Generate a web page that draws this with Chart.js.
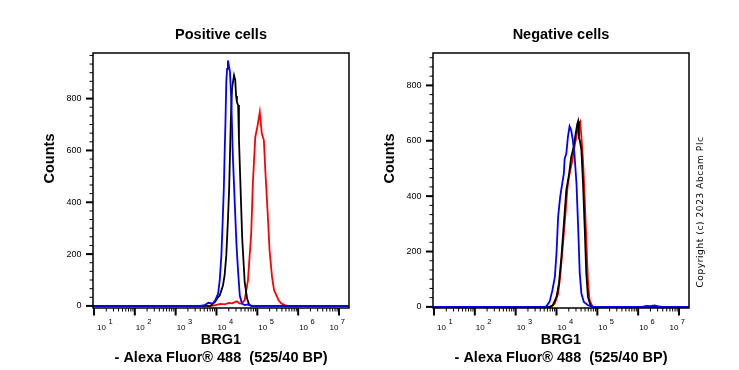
<!DOCTYPE html>
<html>
<head>
<meta charset="utf-8">
<script src="https://cdn.jsdelivr.net/npm/chart.js@4.4.1/dist/chart.umd.min.js"></script>
<style>
  body { margin: 0; background: #fff; width: 739px; height: 370px; position: relative; overflow: hidden; }
  canvas { position: absolute; top: 0; }
  #c1 { left: 0; }
  #c2 { left: 340px; }
</style>
</head>
<body>
<canvas id="c1" width="370" height="370"></canvas>
<canvas id="c2" width="399" height="370"></canvas>
<script>
// axis ranges (log10 of intensity for x)
var xMinLog = 0.976, xMaxLog = 7.245;
var decades = [1, 2, 3, 4, 5, 6, 7];
var yLabels = [0, 200, 400, 600, 800];

// Positive cells (x = log10 intensity, y = counts)
var posBlueLog   = [0.98, 3.60, 3.71, 3.80, 3.91, 3.97, 4.04, 4.08, 4.12, 4.15, 4.18, 4.20, 4.22, 4.24, 4.26, 4.28, 4.30, 4.33, 4.36, 4.40, 4.45, 4.49, 4.53, 4.57, 4.62, 4.69, 4.76, 4.85, 7.24];
var posBlueCount = [0, 0, 3, 12, 9, 22, 48, 100, 195, 320, 454, 590, 710, 864, 915, 947, 930, 902, 805, 581, 388, 234, 131, 41, 10, 3, 6, 0, 0];
var posBlackLog   = [0.98, 3.85, 3.92, 3.96, 4.02, 4.08, 4.12, 4.16, 4.20, 4.24, 4.28, 4.31, 4.35, 4.38, 4.41, 4.43, 4.46, 4.48, 4.50, 4.53, 4.55, 4.59, 4.63, 4.69, 4.75, 4.80, 4.86, 7.24];
var posBlackCount = [0, 0, 10, 15, 30, 41, 60, 80, 120, 195, 330, 452, 710, 838, 870, 890, 870, 810, 787, 775, 645, 452, 260, 93, 28, 5, 0, 0];
var posRedLog   = [0.98, 3.90, 4.00, 4.10, 4.20, 4.30, 4.38, 4.45, 4.50, 4.56, 4.61, 4.69, 4.77, 4.85, 4.89, 4.95, 5.00, 5.06, 5.11, 5.16, 5.20, 5.25, 5.30, 5.36, 5.41, 5.47, 5.52, 5.59, 5.67, 5.72, 7.24];
var posRedCount = [0, 0, 4, 8, 6, 12, 10, 15, 18, 10, 9, 22, 99, 279, 472, 652, 690, 748, 665, 639, 510, 369, 215, 112, 61, 41, 22, 9, 3, 0, 0];

// Negative cells
var negBlueLog   = [0.98, 3.70, 3.75, 3.83, 3.90, 3.96, 4.00, 4.04, 4.09, 4.14, 4.18, 4.20, 4.24, 4.28, 4.32, 4.36, 4.40, 4.44, 4.49, 4.53, 4.57, 4.61, 4.67, 4.77, 4.89, 6.10, 6.20, 6.30, 6.40, 6.50, 6.60, 7.24];
var negBlueCount = [0, 0, 2, 18, 60, 108, 193, 325, 397, 445, 481, 535, 553, 614, 652, 638, 602, 553, 445, 289, 120, 48, 18, 6, 0, 0, 4, 3, 5, 2, 0, 0];
var negBlackLog   = [0.98, 3.83, 3.91, 4.00, 4.06, 4.12, 4.18, 4.24, 4.31, 4.36, 4.42, 4.47, 4.51, 4.53, 4.55, 4.57, 4.61, 4.65, 4.69, 4.73, 4.77, 4.83, 4.89, 7.24];
var negBlackCount = [0, 0, 6, 36, 84, 180, 300, 421, 481, 541, 578, 626, 662, 671, 610, 602, 566, 445, 289, 120, 36, 6, 0, 0];
var negRedLog   = [0.98, 3.87, 3.96, 4.04, 4.09, 4.16, 4.22, 4.27, 4.32, 4.39, 4.44, 4.50, 4.54, 4.58, 4.61, 4.65, 4.69, 4.73, 4.77, 4.81, 4.88, 4.93, 7.24];
var negRedCount = [0, 0, 12, 48, 108, 229, 337, 433, 481, 529, 578, 626, 656, 668, 614, 529, 397, 241, 96, 24, 2, 0, 0];

Chart.defaults.font.family = '"Liberation Sans", Arial, sans-serif';
Chart.defaults.color = '#000';

function pts(logs, counts) {
  return logs.map(function(l, i) { return { x: Math.pow(10, l), y: counts[i] }; });
}

function line(color, logs, counts) {
  return { data: pts(logs, counts), borderColor: color, borderWidth: 1.8,
           pointRadius: 0, tension: 0, fill: false };
}

// frame, tick marks, decade labels, y title
var framePlugin = {
  id: 'frame',
  afterDraw: function(chart, args, opts) {
    var ctx = chart.ctx, a = chart.chartArea, xs = chart.scales.x, ys = chart.scales.y;
    ctx.save();
    ctx.strokeStyle = '#000';
    ctx.fillStyle = '#000';
    ctx.lineWidth = 1.5;
    ctx.strokeRect(a.left, a.top, a.right - a.left, a.bottom - a.top);

    // x ticks
    ctx.lineWidth = 2;
    decades.forEach(function(d) {
      var px = xs.getPixelForValue(Math.pow(10, d));
      ctx.beginPath(); ctx.moveTo(px, a.bottom); ctx.lineTo(px, a.bottom + 7.5); ctx.stroke();
    });
    ctx.lineWidth = 1;
    for (var d = 1; d < 7; d++) {
      for (var m = 2; m < 10; m++) {
        var px = xs.getPixelForValue(m * Math.pow(10, d));
        ctx.beginPath(); ctx.moveTo(px, a.bottom); ctx.lineTo(px, a.bottom + 3.5); ctx.stroke();
      }
    }
    // decade labels 10^n
    decades.forEach(function(d) {
      var px = xs.getPixelForValue(Math.pow(10, d));
      ctx.font = '8px "Liberation Sans", Arial, sans-serif';
      var w1 = ctx.measureText('10').width;
      ctx.font = '7.5px "Liberation Sans", Arial, sans-serif';
      var w2 = ctx.measureText(String(d)).width;
      var lx = px + 1;
      lx = Math.max(lx, a.left + 4);
      lx = Math.min(lx, a.right - 4 - (w1 + 2.5 + w2));
      ctx.textAlign = 'left';
      ctx.textBaseline = 'alphabetic';
      ctx.font = '8px "Liberation Sans", Arial, sans-serif';
      ctx.fillText('10', lx, a.bottom + 21.8);
      ctx.font = '7.5px "Liberation Sans", Arial, sans-serif';
      ctx.fillText(String(d), lx + w1 + 2.5, a.bottom + 16);
    });

    // y ticks
    ctx.lineWidth = 2;
    yLabels.forEach(function(v) {
      var py = ys.getPixelForValue(v);
      ctx.beginPath(); ctx.moveTo(a.left, py); ctx.lineTo(a.left - 7, py); ctx.stroke();
    });
    ctx.lineWidth = 1;
    for (var k = 1; k * 200 / 6 <= ys.max; k++) {
      if (k % 6 === 0) continue;
      var py = ys.getPixelForValue(k * 200 / 6);
      ctx.beginPath(); ctx.moveTo(a.left, py); ctx.lineTo(a.left - 3.5, py); ctx.stroke();
    }

    // y title
    ctx.font = 'bold 14.5px "Liberation Sans", Arial, sans-serif';
    ctx.textAlign = 'center';
    ctx.textBaseline = 'middle';
    ctx.save();
    ctx.translate(a.left - 43.5, 158.5);
    ctx.rotate(-Math.PI / 2);
    ctx.fillText('Counts', 0, 0);
    ctx.restore();

    if (opts && opts.copyright) {
      ctx.font = '9px "DejaVu Sans", sans-serif';
      try { ctx.letterSpacing = '0.6px'; } catch (e) {}
      ctx.save();
      ctx.translate(a.right + 12, 212);
      ctx.rotate(-Math.PI / 2);
      ctx.fillText(opts.copyright, 0, 0);
      ctx.restore();
    }
    ctx.restore();
  }
};

function makeChart(id, title, yMin, yMax, datasets, copyright) {
  var ctx = document.getElementById(id).getContext('2d');
  return new Chart(ctx, {
    type: 'line',
    data: { datasets: datasets },
    plugins: [framePlugin],
    options: {
      responsive: false,
      animation: false,
      layout: { padding: { left: 0, right: id === 'c1' ? 21 : 50, top: 0, bottom: 0 } },
      plugins: {
        legend: { display: false },
        tooltip: { enabled: false },
        title: {
          display: true, text: title, fullSize: false,
          font: { size: 14.5, weight: 'bold' },
          padding: { top: 26.5, bottom: 9.1 }
        },
        frame: { copyright: copyright }
      },
      scales: {
        x: {
          type: 'logarithmic',
          min: Math.pow(10, xMinLog), max: Math.pow(10, xMaxLog),
          grid: { display: false, drawTicks: false },
          border: { display: false },
          ticks: { display: false },
          afterFit: function(s) { s.height = 62; },
          title: {
            display: true,
            text: ['BRG1', '- Alexa Fluor\u00ae 488  (525/40 BP)'],
            font: { size: 14.5, weight: 'bold', lineHeight: 1.27 },
            padding: { top: 0, bottom: 2.5 }
          }
        },
        y: {
          min: yMin, max: yMax,
          grid: { display: false, drawTicks: false },
          border: { display: false },
          afterBuildTicks: function(s) { s.ticks = yLabels.map(function(v) { return { value: v }; }); },
          afterFit: function(s) { s.width = 93; },
          ticks: { padding: 11.5, font: { size: 9 } }
        }
      }
    }
  });
}

makeChart('c1', 'Positive cells', -8, 976, [
  line('#0000ff', posBlueLog, posBlueCount),
  line('#000000', posBlackLog, posBlackCount),
  line('#ff0000', posRedLog, posRedCount)
], null);

makeChart('c2', 'Negative cells', -4, 917, [
  line('#0000ff', negBlueLog, negBlueCount),
  line('#000000', negBlackLog, negBlackCount),
  line('#ff0000', negRedLog, negRedCount)
], 'Copyright (c) 2023 Abcam Plc');
</script>
</body>
</html>
